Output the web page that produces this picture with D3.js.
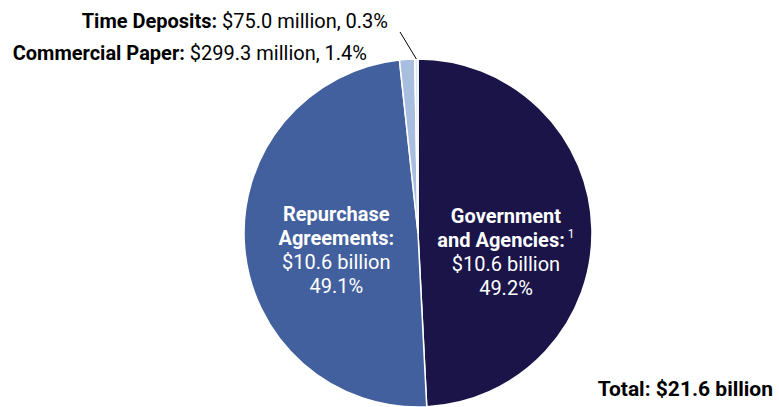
<!DOCTYPE html><html>
<head>
<meta charset="utf-8">
<style>
  body { margin: 0; background: #fff; }
  svg text { font-family: Roboto, "Noto Sans", sans-serif; font-size: 20px; }
  .b { font-weight: bold; }
</style>
</head><body>
<svg width="779" height="407"></svg>

<script src="https://cdn.jsdelivr.net/npm/d3@7"></script>
<script>
// holdings, clockwise from 12 o'clock
var names   = ['Government and Agencies', 'Repurchase Agreements', 'Commercial Paper', 'Time Deposits'];
var shares  = [49.2, 49.1, 1.4, 0.3];
var amounts = ['$10.6 billion', '$10.6 billion', '$299.3 million', '$75.0 million'];
var colors  = ['#1a1449', '#42609e', '#a7bedf', '#dde8f5'];
var total   = 'Total: $21.6 billion';

var data = names.map(function(n, i) {
  return { name: n, share: shares[i], amount: amounts[i], color: colors[i] };
});

var svg = d3.select('svg');
var cx = 418, cy = 233, r = 174;

var pie = d3.pie().sort(null).value(function(d) { return d.share; });
var arc = d3.arc().innerRadius(0).outerRadius(r);
var inner = d3.arc().innerRadius(88).outerRadius(88);
var edge = d3.arc().innerRadius(r).outerRadius(r);

var g = svg.append('g').attr('transform', 'translate(' + cx + ',' + cy + ')');
var arcs = pie(data);

g.selectAll('path')
    .data(arcs)
  .enter().append('path')
    .attr('d', arc)
    .attr('fill', function(d) { return d.data.color; })
    .attr('stroke', '#fff')
    .attr('stroke-width', 1.5);

// big slice labels, inside the pie
var big = [
  { i: 0, lines: ['Government', 'and Agencies:'], dx: 0, dy: 2, note: '1' },
  { i: 1, lines: ['Repurchase', 'Agreements:'], dx: 6, dy: 0 }
];
big.forEach(function(b) {
  var a = arcs[b.i];
  var x = inner.centroid(a)[0] + b.dx;
  var t = g.append('text').attr('text-anchor', 'middle').attr('fill', '#fff');
  t.append('tspan').attr('class', 'b').attr('x', x).attr('y', -12 + b.dy).text(b.lines[0]);
  var l2 = t.append('tspan').attr('x', x).attr('y', 12 + b.dy);
  l2.append('tspan').attr('class', 'b').text(b.lines[1]);
  if (b.note) {
    l2.append('tspan').attr('dx', 3).attr('dy', -9).style('font-size', '12px').text(b.note);
  }
  t.append('tspan').attr('x', x).attr('y', 36 + b.dy).text(a.data.amount);
  t.append('tspan').attr('x', x).attr('y', 60 + b.dy).text(a.data.share.toFixed(1) + '%');
});

// small slices, labelled outside
var smallLabel = function(d, x, y) {
  var t = svg.append('text').attr('x', x).attr('y', y).attr('text-anchor', 'end').attr('fill', '#000');
  t.append('tspan').attr('class', 'b').text(d.data.name + ': ');
  t.append('tspan').text(d.data.amount + ', ' + d.data.share.toFixed(1) + '%');
};
smallLabel(arcs[3], 388, 28);
smallLabel(arcs[2], 367, 60);

var p = edge.centroid(arcs[3]);
svg.append('line')
    .attr('x1', cx + p[0]).attr('y1', cy + p[1])
    .attr('x2', 400).attr('y2', 32)
    .attr('stroke', '#000')
    .attr('stroke-width', 1);

svg.append('text')
    .attr('class', 'b')
    .attr('x', 773).attr('y', 396)
    .attr('text-anchor', 'end')
    .style('font-size', '21px')
    .text(total);
</script>
</body></html>
